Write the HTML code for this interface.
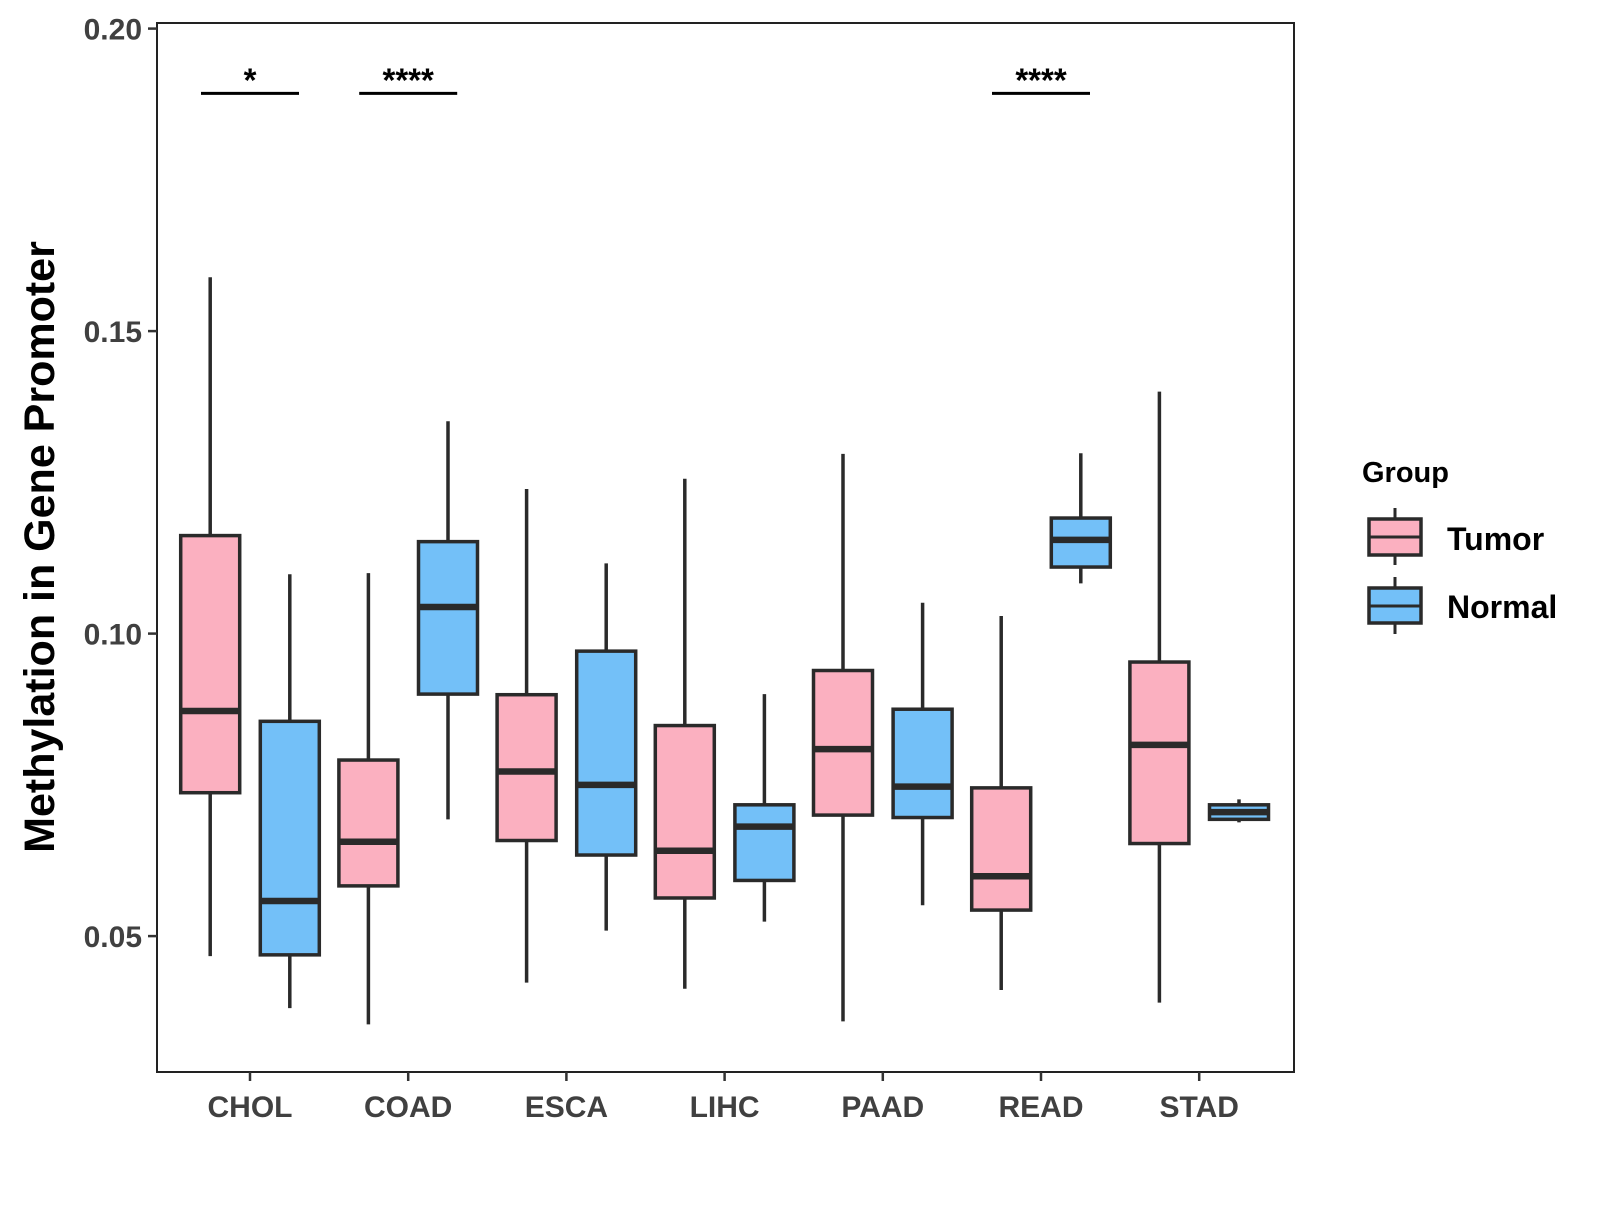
<!DOCTYPE html>
<html><head><meta charset="utf-8"><style>
body{margin:0;background:#fff;}
svg text{font-family:"Liberation Sans",sans-serif;font-weight:bold;}
</style></head><body>
<svg id="chart" width="1600" height="1200" xmlns="http://www.w3.org/2000/svg">
<rect x="157" y="23" width="1137" height="1049" fill="#fff" stroke="#222" stroke-width="2"/>
<g id="yaxis"></g>
<g id="xaxis"></g>
<g id="boxes"></g>
<g id="sig"></g>
<text x="54" y="547" font-size="43" fill="#000" text-anchor="middle" transform="rotate(-90 54 547)">Methylation in Gene Promoter</text>
<g>
<text x="1362" y="482" font-size="29" fill="#000">Group</text>
<g>
<line x1="1395" y1="508" x2="1395" y2="565" stroke="#2a2a2a" stroke-width="3"/>
<rect x="1369" y="519" width="52" height="36" fill="#FBB0C0" stroke="#2a2a2a" stroke-width="3.5"/>
<line x1="1369" y1="537" x2="1421" y2="537" stroke="#2a2a2a" stroke-width="3"/>
<text x="1447" y="550" font-size="32" fill="#000">Tumor</text></g>
<g>
<line x1="1395" y1="577" x2="1395" y2="634" stroke="#2a2a2a" stroke-width="3"/>
<rect x="1369" y="588" width="52" height="35" fill="#73C0F8" stroke="#2a2a2a" stroke-width="3.5"/>
<line x1="1369" y1="606" x2="1421" y2="606" stroke="#2a2a2a" stroke-width="3"/>
<text x="1447" y="618" font-size="32" fill="#000">Normal</text></g>
</g>
</svg>
<script>
const categories=["CHOL","COAD","ESCA","LIHC","PAAD","READ","STAD"];
// [low whisker, q1, median, q3, high whisker]
const tumorStats=[[0.0467,0.0737,0.0872,0.1162,0.1589],[0.0354,0.0583,0.0656,0.0791,0.1100],[0.0423,0.0658,0.0772,0.0899,0.1239],[0.0413,0.0563,0.0641,0.0848,0.1256],[0.0359,0.0700,0.0809,0.0939,0.1297],[0.0411,0.0543,0.0599,0.0745,0.1029],[0.0390,0.0653,0.0816,0.0953,0.1400]];
const normalStats=[[0.0381,0.0469,0.0558,0.0855,0.1098],[0.0693,0.0900,0.1044,0.1152,0.1351],[0.0509,0.0634,0.0750,0.0971,0.1116],[0.0524,0.0592,0.0681,0.0717,0.0900],[0.0551,0.0696,0.0747,0.0875,0.1051],[0.1083,0.1110,0.1155,0.1191,0.1298],[0.0688,0.0693,0.0705,0.0717,0.0726]];
const yTicks=[0.05,0.10,0.15,0.20];
const yTickLabels=["0.05","0.10","0.15","0.20"];
const sigCats=["CHOL","COAD","READ"];
const sigLabels=["*","****","****"];
const sigLevel=[0.1893,0.1893,0.1893];

const NS="http://www.w3.org/2000/svg";
function y(v){return 28.6+(0.20-v)*6050;}
function x(i){return 250+i*158.2;}
function mk(tag,attrs,parent){const e=document.createElementNS(NS,tag);for(const k in attrs)e.setAttribute(k,attrs[k]);parent.appendChild(e);return e;}
const ya=document.getElementById('yaxis'),xa=document.getElementById('xaxis'),bx=document.getElementById('boxes'),sg=document.getElementById('sig');
yTicks.forEach((t,i)=>{
  const l=mk('line',{x1:148,x2:157,y1:y(t),y2:y(t),stroke:'#333','stroke-width':2.5},ya);
  
  
  const tx=mk('text',{x:142,y:y(t)+11,'font-size':30,fill:'#404040','text-anchor':'end'},ya);
  tx.textContent=yTickLabels[i];
  
  
});
categories.forEach((c,i)=>{
  const l=mk('line',{x1:x(i),x2:x(i),y1:1072,y2:1081,stroke:'#333','stroke-width':2.5},xa);
  
  
  const tx=mk('text',{x:x(i),y:1117,'font-size':30,fill:'#404040','text-anchor':'middle'},xa);
  tx.textContent=c;
  
  
});
function drawBox(s,cx,fill,name){
  const g=mk('g',{},bx);
  
  
  const w=59;
  mk('line',{x1:cx,x2:cx,y1:y(s[0]),y2:y(s[4]),stroke:'#2a2a2a','stroke-width':3.5},g);
  mk('rect',{x:cx-w/2,y:y(s[3]),width:w,height:Math.max(1,y(s[1])-y(s[3])),fill:fill,stroke:'#2a2a2a','stroke-width':3.5},g);
  mk('line',{x1:cx-w/2,x2:cx+w/2,y1:y(s[2]),y2:y(s[2]),stroke:'#2a2a2a','stroke-width':6.5},g);
}
categories.forEach((c,i)=>{
  drawBox(tumorStats[i],x(i)-39.8,'#FBB0C0','box-'+c.toLowerCase()+'-tumor');
  drawBox(normalStats[i],x(i)+39.8,'#73C0F8','box-'+c.toLowerCase()+'-normal');
});
sigCats.forEach((c,k)=>{
  const i=categories.indexOf(c);
  const yy=y(sigLevel[k]);
  const l=mk('line',{x1:x(i)-49,x2:x(i)+49,y1:yy,y2:yy,stroke:'#000','stroke-width':3},sg);
  
  
  const t=mk('text',{x:x(i),y:yy-2,'font-size':33,fill:'#000','text-anchor':'middle'},sg);
  t.textContent=sigLabels[k];
  
  
});
</script>
</body></html>
